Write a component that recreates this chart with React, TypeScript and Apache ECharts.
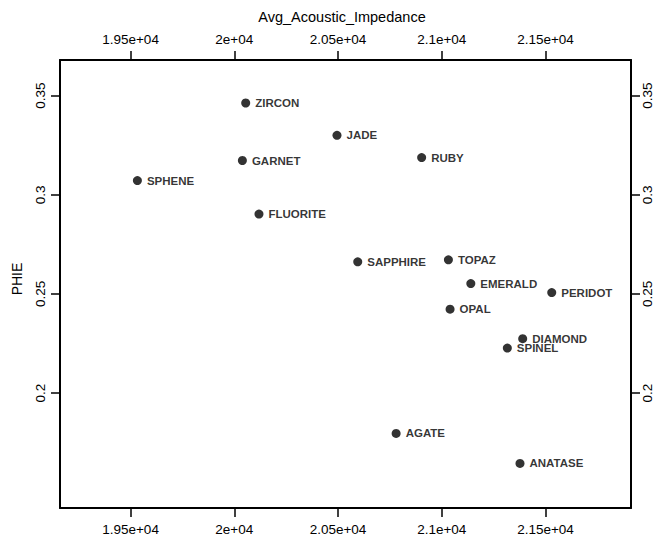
import React, { useEffect, useRef } from 'react';
import * as echarts from 'echarts';

// Minerals plotted: acoustic impedance vs. effective porosity
const minerals = ['ZIRCON', 'JADE', 'GARNET', 'SPHENE', 'RUBY', 'FLUORITE', 'SAPPHIRE', 'TOPAZ', 'EMERALD', 'PERIDOT', 'OPAL', 'DIAMOND', 'SPINEL', 'AGATE', 'ANATASE'];
const impedance = [20055, 20495, 20039, 19533, 20903, 20119, 20595, 21032, 21140, 21530, 21040, 21390, 21316, 20780, 21377];
const phie = [0.3463, 0.3300, 0.3173, 0.3072, 0.3188, 0.2903, 0.2662, 0.2672, 0.2552, 0.2507, 0.2423, 0.2274, 0.2227, 0.1796, 0.1645];

const xTicks = [19500, 20000, 20500, 21000, 21500];
const xTickLabels = ['1.95e+04', '2e+04', '2.05e+04', '2.1e+04', '2.15e+04'];
const yTicks = [0.2, 0.25, 0.3, 0.35];
const yTickLabels = ['0.2', '0.25', '0.3', '0.35'];
const xRange = [19160, 21912];
const yRange = [0.142, 0.368];

const FONT = '"Liberation Sans", Arial, Helvetica, sans-serif';

const lookup = (ticks: number[], labels: string[]) => (v: number) => {
  const i = ticks.findIndex((t) => Math.abs(t - v) < 1e-9);
  return i >= 0 ? labels[i] : '';
};

const axisLineStyle = { show: true, onZero: false, lineStyle: { color: '#000', width: 2 } };

const xAxisFor = (position: 'top' | 'bottom', name?: string) => ({
  type: 'value',
  position,
  min: xRange[0],
  max: xRange[1],
  name: name ?? '',
  nameLocation: 'middle',
  nameGap: 36,
  nameTextStyle: { color: '#000', fontSize: 14.5, fontFamily: FONT, padding: [0, 7, 0, 0] },
  axisLine: axisLineStyle,
  axisTick: { show: true, inside: false, length: 9, customValues: xTicks, lineStyle: { color: '#000', width: 1.5 } },
  axisLabel: {
    show: true,
    customValues: xTicks,
    formatter: lookup(xTicks, xTickLabels),
    margin: 14,
    color: '#000',
    fontSize: 13.5,
    fontFamily: FONT,
  },
  splitLine: { show: false },
});

const yAxisFor = (position: 'left' | 'right', name?: string, margin = 13) => ({
  type: 'value',
  position,
  min: yRange[0],
  max: yRange[1],
  name: name ?? '',
  nameLocation: 'middle',
  nameGap: 36,
  nameTextStyle: { color: '#000', fontSize: 14, fontFamily: FONT, padding: [0, 0, 0, 10] },
  axisLine: axisLineStyle,
  axisTick: { show: true, inside: false, length: 9, customValues: yTicks, lineStyle: { color: '#000', width: 1.5 } },
  axisLabel: {
    show: true,
    customValues: yTicks,
    formatter: lookup(yTicks, yTickLabels),
    rotate: 90,
    margin,
    color: '#000',
    fontSize: 13.5,
    fontFamily: FONT,
  },
  splitLine: { show: false },
});

export default function App() {
  const ref = useRef<HTMLDivElement>(null);

  useEffect(() => {
    if (!ref.current) return;
    const chart = echarts.init(ref.current, undefined, { renderer: 'svg' });
    chart.setOption({
      animation: false,
      backgroundColor: '#fff',
      grid: { left: 60, right: 27, top: 60, bottom: 30, containLabel: false, outerBoundsMode: 'none' },
      xAxis: [xAxisFor('bottom'), xAxisFor('top', 'Avg_Acoustic_Impedance')],
      yAxis: [yAxisFor('left', 'PHIE', 13), yAxisFor('right', undefined, 9)],
      series: [
        {
          type: 'scatter',
          xAxisIndex: 0,
          yAxisIndex: 0,
          symbol: 'circle',
          symbolSize: 9,
          itemStyle: { color: '#000' },
          label: {
            show: true,
            position: 'right',
            distance: 5,
            formatter: '{b}',
            color: '#000',
            fontSize: 11.5,
            fontWeight: 'bold',
            fontFamily: FONT,
          },
          data: minerals.map((m, i) => ({ name: m, value: [impedance[i], phie[i]] })),
        },
      ],
    });
    return () => chart.dispose();
  }, []);

  return (
    <div
      ref={ref}
      style={{ position: 'fixed', left: 0, top: 0, width: 658, height: 538, background: '#fff' }}
    />
  );
}
